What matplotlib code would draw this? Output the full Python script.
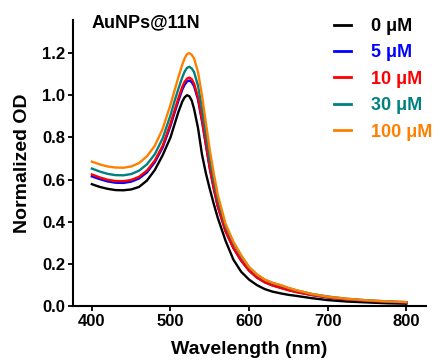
import matplotlib
matplotlib.use("Agg")
import matplotlib.pyplot as plt

plt.rcParams['font.family'] = ['Liberation Sans', 'DejaVu Sans']
plt.rcParams['font.weight'] = 'bold'

wavelength = [400, 410, 420, 430, 440, 450, 460, 470, 480, 490, 500, 505, 510, 515, 518,
              521, 524, 527, 530, 535, 540, 545, 550, 555, 560, 570, 580, 590, 600, 610,
              620, 630, 640, 650, 660, 680, 700, 725, 750, 775, 800]

od_0uM = [0.578, 0.565, 0.556, 0.550, 0.549, 0.553, 0.565, 0.595, 0.645, 0.715, 0.800, 0.860,
          0.920, 0.970, 0.990, 1.000, 0.995, 0.975, 0.935, 0.845, 0.720, 0.630, 0.555, 0.485,
          0.420, 0.310, 0.220, 0.162, 0.125, 0.099, 0.080, 0.068, 0.060, 0.053, 0.048, 0.037,
          0.028, 0.021, 0.017, 0.013, 0.011]

od_5uM = [0.615, 0.602, 0.591, 0.585, 0.584, 0.590, 0.605, 0.634, 0.682, 0.752, 0.855, 0.915,
          0.973, 1.027, 1.050, 1.065, 1.070, 1.062, 1.043, 0.980, 0.878, 0.765, 0.652, 0.558,
          0.474, 0.355, 0.275, 0.215, 0.168, 0.135, 0.113, 0.098, 0.087, 0.076, 0.067, 0.052,
          0.041, 0.031, 0.025, 0.020, 0.017]

od_10uM = [0.624, 0.610, 0.599, 0.593, 0.592, 0.598, 0.613, 0.642, 0.690, 0.760, 0.865, 0.925,
           0.985, 1.040, 1.064, 1.079, 1.084, 1.076, 1.055, 0.990, 0.885, 0.770, 0.655, 0.560,
           0.475, 0.355, 0.275, 0.215, 0.168, 0.135, 0.112, 0.097, 0.086, 0.075, 0.066, 0.052,
           0.041, 0.031, 0.025, 0.020, 0.017]

od_30uM = [0.652, 0.638, 0.627, 0.621, 0.620, 0.626, 0.642, 0.672, 0.720, 0.795, 0.905, 0.970,
           1.030, 1.085, 1.112, 1.130, 1.135, 1.127, 1.110, 1.045, 0.940, 0.820, 0.700, 0.600,
           0.510, 0.380, 0.300, 0.235, 0.183, 0.148, 0.124, 0.109, 0.098, 0.085, 0.074, 0.057,
           0.045, 0.034, 0.027, 0.022, 0.018]

od_100uM = [0.685, 0.672, 0.662, 0.657, 0.656, 0.662, 0.678, 0.710, 0.760, 0.840, 0.955, 1.020,
            1.085, 1.145, 1.175, 1.195, 1.200, 1.192, 1.175, 1.110, 1.000, 0.870, 0.740, 0.630,
            0.530, 0.390, 0.305, 0.240, 0.185, 0.150, 0.125, 0.110, 0.099, 0.086, 0.075, 0.057,
            0.044, 0.034, 0.027, 0.022, 0.019]

series = [od_0uM, od_5uM, od_10uM, od_30uM, od_100uM]
labels = ['0 \u03bcM', '5 \u03bcM', '10 \u03bcM', '30 \u03bcM', '100 \u03bcM']
colors = ['#000000', '#0000ff', '#ff0000', '#008080', '#ff8000']

x_ticks = [400, 500, 600, 700, 800]
y_ticks = [0.0, 0.2, 0.4, 0.6, 0.8, 1.0, 1.2]

fig = plt.figure(figsize=(4.35, 3.6), dpi=100)
ax = fig.add_axes([73/435, 54/360, 353/435, 286/360])

for y, lab, c in zip(series, labels, colors):
    ax.plot(wavelength, y, color=c, lw=1.7, label=lab, solid_joinstyle='round')

ax.set_xlim(376, 825)
ax.set_ylim(0, 1.357)
ax.set_xticks(x_ticks)
ax.set_yticks(y_ticks)
ax.set_yticklabels([f'{v:.1f}' for v in y_ticks])
for s in ['top', 'right']:
    ax.spines[s].set_visible(False)
for s in ['left', 'bottom']:
    ax.spines[s].set_linewidth(1.5)
ax.tick_params(direction='out', length=3.5, width=1.3, labelsize=12, pad=2)
for t in ax.get_xticklabels() + ax.get_yticklabels():
    t.set_fontweight('bold')

ax.set_xlabel('Wavelength (nm)', fontsize=14, fontweight='bold', labelpad=9)
ax.set_ylabel('Normalized OD', fontsize=14, fontweight='bold', labelpad=8)

fig.text(92/435, 1 - 27/360, 'AuNPs@11N', fontsize=13, fontweight='bold',
         va='baseline', ha='left')

leg = fig.legend(loc='upper left', bbox_to_anchor=(334/435, 1 - 18/360), frameon=False,
                 handlelength=0.95, handletextpad=1.1, labelspacing=0.52,
                 borderpad=0, borderaxespad=0, labelcolor='linecolor',
                 prop={'weight': 'bold', 'size': 13})
for l in leg.get_lines():
    l.set_linewidth(2.0)

fig.savefig('out.png', dpi=100)
